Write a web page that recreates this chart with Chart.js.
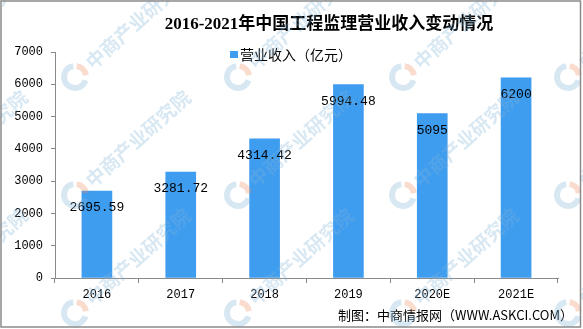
<!DOCTYPE html>
<html>
<head>
<meta charset="utf-8">
<script src="https://cdn.jsdelivr.net/npm/chart.js@4"></script>
<style>
  html, body { margin: 0; padding: 0; background: #ffffff; }
  canvas { display: block; }
</style>
</head>
<body>
<canvas id="chart" width="583" height="329"></canvas>
<script>
// Daten
const categories = ['2016', '2017', '2018', '2019', '2020E', '2021E'];
const revenue = [2695.59, 3281.72, 4314.42, 5994.48, 5095, 6200];
const revenueLabels = ['2695.59', '3281.72', '4314.42', '5994.48', '5095', '6200'];
const yTicks = [0, 1000, 2000, 3000, 4000, 5000, 6000, 7000];
const titleText = '2016-2021年中国工程监理营业收入变动情况';
const legendText = '营业收入（亿元）';
const sourceText = '制图：中商情报网（WWW.ASKCI.COM）';
const watermarkText = '中商产业研究院';

const barColor = '#3f9df0';
const axisColor = '#8a8a8a';

document.addEventListener("DOMContentLoaded", function () {
    const ctx = document.getElementById('chart').getContext('2d');

    // Wasserzeichen (Logo + Schrift, schraeg)
    function drawWatermark(c, x, y) {
        c.save();
        c.translate(x, y);
        c.globalAlpha = 0.3;
        c.lineWidth = 6;
        c.strokeStyle = '#7fb3d8';
        c.beginPath();
        c.arc(0, 0, 11, Math.PI * 0.1, Math.PI * 1.45);
        c.stroke();
        c.strokeStyle = '#f08a60';
        c.beginPath();
        c.arc(0, 0, 11, Math.PI * 1.55, Math.PI * 1.95);
        c.stroke();
        c.rotate(-0.73);
        c.fillStyle = '#7fb3d8';
        c.font = 'bold 19px "Noto Sans CJK SC"';
        c.textBaseline = 'middle';
        c.textAlign = 'left';
        c.fillText(watermarkText, 18, 0);
        c.restore();
    }

    const decoPlugin = {
        id: 'deco',
        beforeDraw(chart) {
            const c = chart.ctx;
            c.save();
            c.fillStyle = '#ffffff';
            c.fillRect(0, 0, chart.width, chart.height);
            c.restore();
        },
        afterDatasetsDraw(chart) {
            const c = chart.ctx;
            const meta = chart.getDatasetMeta(0);
            c.save();
            // Werte in den Balken
            c.font = '13px "Liberation Mono"';
            c.fillStyle = '#000000';
            c.textAlign = 'center';
            c.textBaseline = 'middle';
            meta.data.forEach((bar, i) => {
                c.fillText(revenueLabels[i], bar.x, bar.y + 17);
            });

            // Titel
            c.font = 'bold 17px "Liberation Serif", "Noto Sans CJK SC"';
            c.fillText(titleText, 329, 25);

            // Legende
            c.fillStyle = barColor;
            c.fillRect(230, 51, 8, 7);
            c.fillStyle = '#000000';
            c.textAlign = 'left';
            c.font = '14px "Noto Sans CJK SC"';
            c.fillText(legendText, 240, 55);

            // Quelle
            c.textAlign = 'right';
            c.font = '13px "Noto Sans CJK SC"';
            c.fillText(sourceText, 573, 315);
            c.restore();
        },
        afterDraw(chart) {
            const c = chart.ctx;
            const cols = [-88, 75, 238, 403, 568];
            const rows = [-41, 77, 195, 313];
            rows.forEach(y => cols.forEach(x => drawWatermark(c, x, y)));

            // Rahmen
            c.save();
            c.strokeStyle = axisColor;
            c.lineWidth = 1.5;
            c.strokeRect(1, 1, 579.5, 326);
            c.restore();
        }
    };

    new Chart(ctx, {
        type: 'bar',
        data: {
            labels: categories,
            datasets: [{
                label: legendText,
                data: revenue,
                backgroundColor: barColor,
                borderWidth: 0,
                barThickness: 30
            }]
        },
        options: {
            responsive: false,
            animation: false,
            devicePixelRatio: 1,
            layout: {
                padding: { left: 0, top: 52, right: 25, bottom: 0 }
            },
            scales: {
                x: {
                    afterFit: function (scale) { scale.height = 51; },
                    grid: {
                        offset: true,
                        drawOnChartArea: false,
                        tickLength: 5,
                        tickColor: axisColor
                    },
                    border: { color: axisColor, width: 1 },
                    ticks: {
                        color: '#000000',
                        font: { family: 'Liberation Mono', size: 12 },
                        padding: 5
                    }
                },
                y: {
                    min: 0,
                    max: 7000,
                    afterFit: function (scale) { scale.width = 55; },
                    afterBuildTicks: function (scale) {
                        scale.ticks = yTicks.map(v => ({ value: v }));
                    },
                    grid: {
                        drawOnChartArea: false,
                        tickLength: 4,
                        tickColor: axisColor
                    },
                    border: { color: axisColor, width: 1 },
                    ticks: {
                        color: '#000000',
                        font: { family: 'Liberation Mono', size: 12 },
                        padding: 8,
                        callback: function (value) { return String(value); }
                    }
                }
            },
            plugins: {
                legend: { display: false },
                title: { display: false },
                tooltip: { enabled: false }
            }
        },
        plugins: [decoPlugin]
    });
});
</script>
</body>
</html>
